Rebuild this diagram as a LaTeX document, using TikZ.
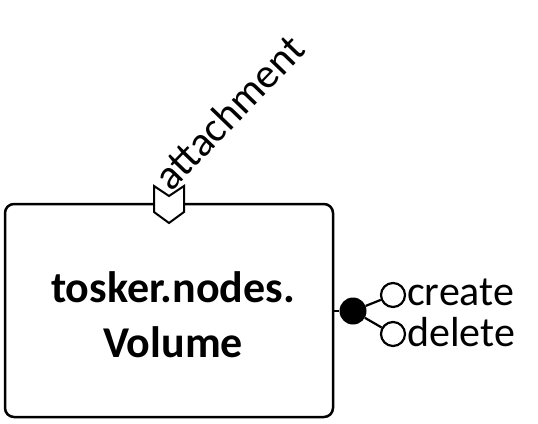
\documentclass[tikz,border=0pt]{standalone}
\usepackage{fontspec}
\setmainfont{Carlito}
\tikzset{
  px/.style={x=1pt,y=-1pt},
  comp/.style={draw=black,line width=2.5pt,rounded corners=9pt,fill=white},
  lbl/.style={font=\fontsize{42}{50}\selectfont,inner sep=0pt},
  opencirc/.style={circle,draw=black,line width=2.2pt,fill=white,minimum size=24pt,inner sep=0pt},
  fullcirc/.style={circle,fill=black,minimum size=27pt,inner sep=0pt},
  link/.style={line width=2.2pt},
}
\begin{document}
\begin{tikzpicture}[px]
\useasboundingbox (0,0) rectangle (538,423);
% component box
\draw[comp] (5,204) rectangle (333,417);
\node[font=\fontsize{44}{55}\selectfont\bfseries,align=center,inner sep=0pt,anchor=base] (name) at (173,357) {tosker.nodes.\\Volume};
% requirement
\draw[line width=2pt,fill=white,line join=miter] (154,186) -- (169,196) -- (184,186) -- (184,212) -- (169,223) -- (154,212) -- cycle;
\coordinate (req) at (169,186);
\node[lbl,rotate=46,anchor=base west] (att) at (171,193) {attachment};
% interface
\coordinate (edge) at (333,311);
\node[fullcirc] (iface) at (353,311) {};
\draw[link] (edge) -- (iface);
\node[opencirc] (create) at (393,295) {};
\node[opencirc] (delete) at (393,334) {};
\draw[link] (iface) -- (create);
\draw[link] (iface) -- (delete);
\node[lbl,anchor=base west] (tcreate) at (407,305) {create};
\node[lbl,anchor=base west] (tdelete) at (407,346) {delete};
\end{tikzpicture}
\end{document}
